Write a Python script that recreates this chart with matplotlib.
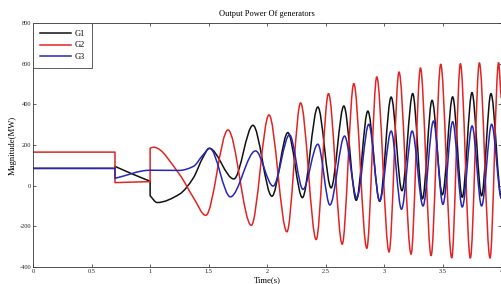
import numpy as np
import matplotlib
matplotlib.use('Agg')
import matplotlib.pyplot as plt
from matplotlib.path import Path
from matplotlib.patches import PathPatch
from matplotlib.lines import Line2D

# turning points (time in s, power in MW)
# a repeated time means a step (vertical jump) at that instant
g1_t = [0, 0.7, 0.7, 0.85, 1.0, 1.0, 1.06, 1.25, 1.37, 1.45, 1.505, 1.715, 1.878,
        2.04, 2.176, 2.30, 2.432, 2.545, 2.654, 2.76, 2.859, 2.96, 3.058, 3.15,
        3.242, 3.325, 3.407, 3.495, 3.583, 3.665, 3.748, 3.83, 3.91, 4.0]
g1_v = [85, 85, 95, 57, 22, -50, -83, -42, 39, 138, 184, 33, 297,
        -52, 261, -59, 387, -11, 392, -72, 367, -77, 436, -25,
        453, -65, 420, -45, 437, -57, 458, -50, 453, -62]

g2_t = [0, 0.7, 0.7, 1.0, 1.0, 1.03, 1.25, 1.37, 1.475, 1.665, 1.864, 2.015,
        2.168, 2.285, 2.418, 2.523, 2.64, 2.739, 2.85, 2.935, 3.04, 3.125,
        3.228, 3.308, 3.399, 3.481, 3.575, 3.649, 3.734, 3.811, 3.902, 3.975, 4.0]
g2_v = [165, 165, 15, 20, 184, 189, 56, -59, -146, 274, -195, 348,
        -227, 407, -265, 453, -288, 502, -308, 535, -326, 559,
        -337, 579, -344, 597, -355, 600, -356, 604, -356, 605, 430]

g3_t = [0, 0.7, 0.7, 1.0, 1.25, 1.37, 1.45, 1.51, 1.685, 1.90, 2.05, 2.19,
        2.305, 2.432, 2.535, 2.66, 2.765, 2.867, 2.96, 3.058, 3.146, 3.237,
        3.33, 3.419, 3.50, 3.583, 3.665, 3.749, 3.83, 3.916, 4.0]
g3_v = [85, 85, 36, 76, 75, 95, 150, 183, -55, 171, -2, 250,
        -18, 204, -95, 244, -60, 302, -75, 269, -116, 269,
        -100, 318, -92, 315, -105, 294, -100, 302, -62]

names = ['G1', 'G2', 'G3']
colors = ['#111111', '#e02424', '#2626b8']

x_ticks = [0, 0.5, 1, 1.5, 2, 2.5, 3, 3.5, 4]
x_labels = ['0', '0.5', '1', '1.5', '2', '2.5', '3', '3.5', '4']
y_ticks = [-400, -200, 0, 200, 400, 600, 800]


def slopes(t, v, is_last):
    # monotone (pchip style) tangents, flat at turning points
    d = np.diff(v) / np.diff(t)
    m = np.zeros(len(t))
    m[0] = d[0]
    m[-1] = 0 if is_last else d[-1]
    for i in range(1, len(t) - 1):
        if d[i - 1] * d[i] > 0:
            h0 = t[i] - t[i - 1]
            h1 = t[i + 1] - t[i]
            w1 = 2 * h1 + h0
            w2 = h1 + 2 * h0
            m[i] = (w1 + w2) / (w1 / d[i - 1] + w2 / d[i])
    return m


def series_path(t, v):
    t = np.asarray(t, float)
    v = np.asarray(v, float)
    cuts = np.where(np.diff(t) == 0)[0] + 1
    pieces = np.split(np.arange(len(t)), cuts)
    verts, codes = [], []
    for k, idx in enumerate(pieces):
        pt, pv = t[idx], v[idx]
        m = slopes(pt, pv, k == len(pieces) - 1)
        verts.append((pt[0], pv[0]))
        codes.append(Path.MOVETO if k == 0 else Path.LINETO)
        for i in range(len(pt) - 1):
            h = (pt[i + 1] - pt[i]) / 3
            verts += [(pt[i] + h, pv[i] + m[i] * h),
                      (pt[i + 1] - h, pv[i + 1] - m[i + 1] * h),
                      (pt[i + 1], pv[i + 1])]
            codes += [Path.CURVE4] * 3
    return Path(verts, codes)


plt.rcParams['font.family'] = ['Liberation Serif', 'DejaVu Serif']
plt.rcParams['axes.unicode_minus'] = False

fig = plt.figure(figsize=(5.02, 2.84), dpi=100)
ax = fig.add_axes([33 / 502, 17 / 284, 468.5 / 502, 244 / 284])

series = [(g1_t, g1_v), (g2_t, g2_v), (g3_t, g3_v)]
handles = []
for k, (t, v) in enumerate(series):
    patch = PathPatch(series_path(t, v), fill=False, edgecolor=colors[k],
                      lw=1.1, joinstyle='round', capstyle='butt', zorder=2 + k * 0.1)
    ax.add_patch(patch)
    handles.append(Line2D([], [], color=colors[k], lw=1.1))

ax.set_xlim(0, 4)
ax.set_ylim(-400, 800)
ax.set_xticks(x_ticks)
ax.set_xticklabels(x_labels)
ax.set_yticks(y_ticks)
ax.tick_params(direction='in', top=True, right=True, length=2.5, width=0.5,
               labelsize=4.6, pad=1.5, colors='#222222')
for sp in ax.spines.values():
    sp.set_linewidth(0.6)
    sp.set_color('#333333')

ax.set_title('Output Power Of generators', fontsize=6, pad=5)
ax.set_xlabel('Time(s)', fontsize=6.2, labelpad=1.2)
ax.set_ylabel('Magnitude(MW)', fontsize=6.2, labelpad=2)

leg = ax.legend(handles, names, loc='upper left', fontsize=6, borderaxespad=0,
                handlelength=3.8, handletextpad=0.4, labelspacing=0.45,
                borderpad=0.8, fancybox=False, framealpha=1)
leg.get_frame().set_edgecolor('#444444')
leg.get_frame().set_linewidth(0.6)

fig.savefig('out.png', dpi=100)
